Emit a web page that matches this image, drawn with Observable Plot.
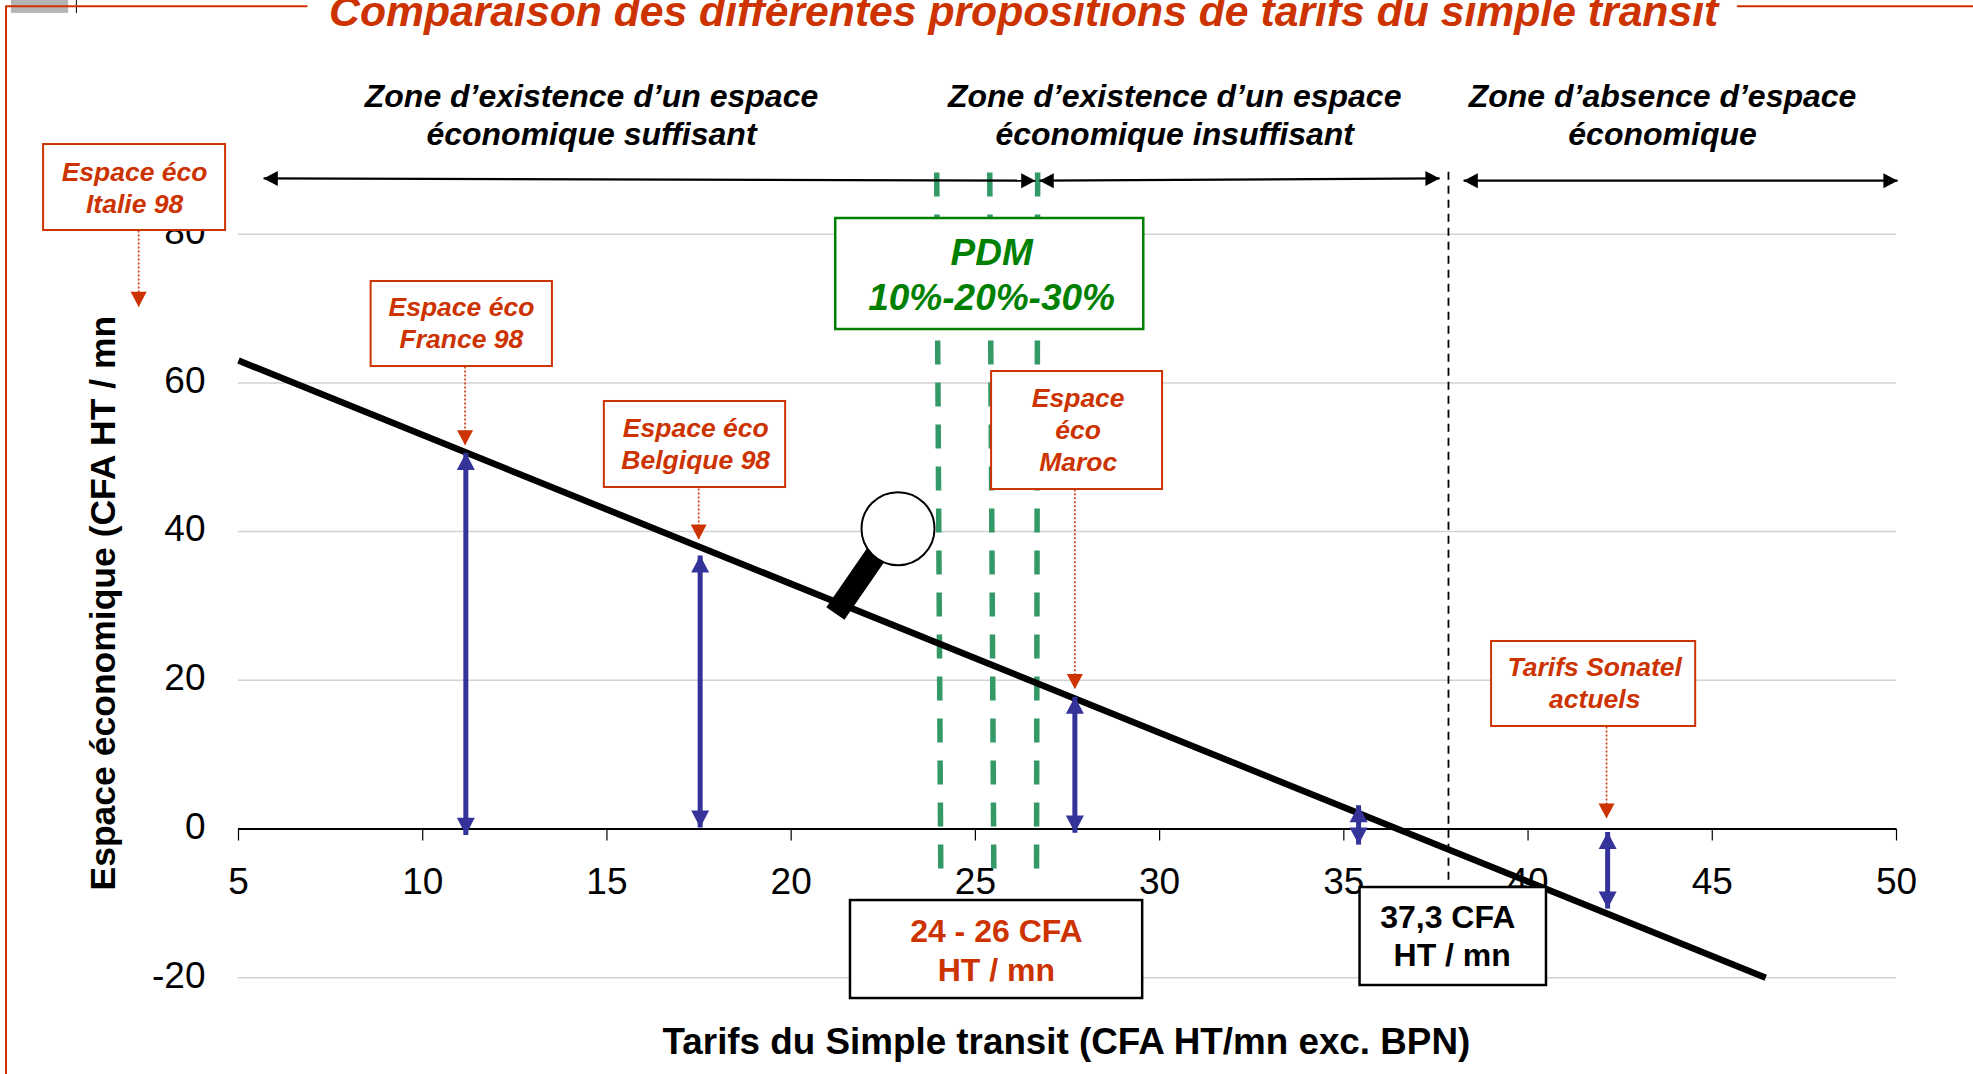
<!DOCTYPE html>
<html lang="fr">
<head>
<meta charset="utf-8">
<script src="https://cdn.jsdelivr.net/npm/d3@7"></script>
<script src="https://cdn.jsdelivr.net/npm/@observablehq/plot@0.6"></script>
<style>html,body{margin:0;padding:0;background:#fff;overflow:hidden}</style>
</head>
<body>
<div id="chart"></div>
<script>
// Axis values
const xTicks = [5,10,15,20,25,30,35,40,45,50];
const yTicks = [-20,0,20,40,60,80];
const gridY = [-20,20,40,60,80];
// Regression line (tariff, economic space)
const lineX = [5,46.45];
const lineY = [63,-20];
// Blue double arrows
const blueX = [11.17,17.53,27.7,35.4,42.16];
const blueTop = [50.6,36.8,17.8,3.2,-0.4];
const blueBottom = [-0.8,0.2,-0.5,-2.1,-10.7];
// Red dotted pointers
const redX = [2.29,11.15,17.49,27.7,42.13];
const redFrom = [80.5,62.2,45.8,45.7,13.8];
const redTip = [70.2,51.6,38.9,18.8,1.4];
// PDM green dashed lines
const pdmTopX = [23.95,25.39,26.69];
const pdmBottomX = [24.06,25.5,26.66];
const pdmTopY = 88.3, pdmBottomY = -5.3;
// Break-even dashed line
const breakX = 37.84, breakTopY = 88.4, breakBottomY = -6.9;
// Zone double arrows
const zoneX1 = [5.68,26.74,38.25];
const zoneX2 = [26.63,37.6,50.03];
const zoneY1 = [87.5,87.2,87.2];
const zoneY2 = [87.2,87.5,87.2];
const zoneText = ["Zone d’existence d’un espace\néconomique suffisant","Zone d’existence d’un espace\néconomique insuffisant","Zone d’absence d’espace\néconomique"];
const zoneTextX = [14.58,30.41,43.65];
const zoneTextY = 96.17;
// Annotation boxes
const boxLabels = ["Espace éco\nItalie 98","Espace éco\nFrance 98","Espace éco\nBelgique 98","Espace\néco\nMaroc","Tarifs Sonatel\nactuels"];
const boxX1 = [-0.29,8.6,14.93,25.44,39.01];
const boxX2 = [4.65,13.52,19.85,30.08,44.55];
const boxY1 = [92.06,73.64,57.5,61.53,25.22];
const boxY2 = [80.5,62.2,45.93,45.66,13.79];
const boxTextX = [2.18,11.05,17.41,27.79,41.81];
const boxTextY = [86.41,68.18,51.91,53.79,19.78];
// Magnifying glass
const lensX = 22.9, lensY = 40.4;
const handleX = [22.3,21.2], handleY = [36.9,29.0];
// Slide frame
const frameLeftX = -1.31, frameTopY = 110.66, frameBottomY = -33.02;
const frameTopLeft = [-1.31,6.85], frameTopRight = [45.69,52.1];

const RED = "#CC3300", BLUE = "#333399", DASHGREEN = "#339966", GREEN = "#008000", GRID = "#d2d2d2";
const FONT = "'Liberation Sans', Arial, sans-serif";

const idx = a => a.map((_, i) => i);
const head = {draw(c, size){const s = Math.sqrt(size/Math.PI); c.moveTo(0,0); c.lineTo(s,1.9*s); c.lineTo(-s,1.9*s); c.closePath();}};

const chart = Plot.plot({
  width: 1973, height: 1074,
  marginLeft: 238, marginRight: 77, marginTop: 233.7, marginBottom: 96.8,
  x: {domain: [5,50]},
  y: {domain: [-20,80]},
  style: {background: "#fff", fontFamily: FONT, overflow: "hidden"},
  marks: [
    // frame
    Plot.rect([0],{x1:-1.16,x2:0.39,y1:109.7,y2:111.43,fill:"#b4b4b4"}),
    Plot.line([[0.6,111.43],[0.6,109.8]],{stroke:"#000",strokeWidth:1}),
    Plot.line([[frameLeftX,frameBottomY],[frameLeftX,frameTopY],[frameTopLeft[1],frameTopY]],{stroke:RED,strokeWidth:2}),
    Plot.line(frameTopRight.map(x=>[x,frameTopY]),{stroke:RED,strokeWidth:2}),
    // grid and axes
    Plot.ruleY(gridY,{stroke:GRID,strokeWidth:1.5}),
    Plot.axisY(yTicks,{anchor:"left",tickSize:0,tickPadding:33,fontSize:37,label:null,dy:-2,tickFormat:d=>String(d)}),
    Plot.axisX(xTicks,{anchor:"bottom",tickSize:12,tickPadding:27,fontSize:37,label:null,dy:-148.7,stroke:"#000",strokeWidth:1.2}),
    Plot.ruleY([0],{stroke:"#000",strokeWidth:2}),
    Plot.text(["Tarifs du Simple transit (CFA HT/mn exc. BPN)"],{x:27.47,y:-28.71,fontSize:36.8,fontWeight:"bold",fill:"#000"}),
    Plot.text(["Espace économique (CFA HT / mn)"],{x:1.34,y:-8.27,rotate:-90,textAnchor:"start",fontSize:35.5,fontWeight:"bold",fill:"#000"}),
    Plot.rect([0],{x1:0.71,x2:1.96,y1:68.8,y2:73,fill:"#fff"}),
    // PDM lines
    Plot.link(idx(pdmTopX),{x1:i=>pdmTopX[i],x2:i=>pdmBottomX[i],y1:pdmTopY,y2:pdmBottomY,stroke:DASHGREEN,strokeWidth:5.5,strokeDasharray:"24,18"}),
    // regression line
    Plot.line(idx(lineX),{x:i=>lineX[i],y:i=>lineY[i],stroke:"#000",strokeWidth:6.5,strokeLinecap:"butt"}),
    // break-even
    Plot.ruleX([breakX],{y1:breakBottomY,y2:breakTopY,stroke:"#000",strokeWidth:1.8,strokeDasharray:"8,6"}),
    // zones
    Plot.link(idx(zoneX1),{x1:i=>zoneX1[i],x2:i=>zoneX2[i],y1:i=>zoneY1[i],y2:i=>zoneY2[i],stroke:"#000",strokeWidth:2.2}),
    Plot.dot(idx(zoneX1),{x:i=>zoneX1[i],y:i=>zoneY1[i],r:7.5,symbol:head,rotate:-90,fill:"#000",stroke:"none"}),
    Plot.dot(idx(zoneX2),{x:i=>zoneX2[i],y:i=>zoneY2[i],r:7.5,symbol:head,rotate:90,fill:"#000",stroke:"none"}),
    Plot.text(zoneText,{x:(d,i)=>zoneTextX[i],y:zoneTextY,fontSize:32,fontWeight:"bold",fontStyle:"italic",lineHeight:1.2,fill:"#000"}),
    // blue arrows
    Plot.link(idx(blueX),{x1:i=>blueX[i],x2:i=>blueX[i],y1:i=>blueBottom[i],y2:i=>blueTop[i],stroke:BLUE,strokeWidth:5}),
    Plot.dot(idx(blueX),{x:i=>blueX[i],y:i=>blueTop[i],r:9,symbol:head,rotate:0,fill:BLUE,stroke:"none"}),
    Plot.dot(idx(blueX),{x:i=>blueX[i],y:i=>blueBottom[i],r:9,symbol:head,rotate:180,fill:BLUE,stroke:"none"}),
    // red pointers
    Plot.link(idx(redX),{x1:i=>redX[i],x2:i=>redX[i],y1:i=>redFrom[i],y2:i=>redTip[i],stroke:RED,strokeWidth:1.6,strokeDasharray:"2,2"}),
    Plot.dot(idx(redX),{x:i=>redX[i],y:i=>redTip[i],r:8,symbol:head,rotate:180,fill:RED,stroke:"none"}),
    // magnifier
    Plot.line(idx(handleX),{x:i=>handleX[i],y:i=>handleY[i],stroke:"#000",strokeWidth:22,strokeLinecap:"butt"}),
    Plot.dot([0],{x:lensX,y:lensY,r:36.5,fill:"#fff",stroke:"#000",strokeWidth:2}),
    // PDM box
    Plot.rect([0],{x1:21.21,x2:29.57,y1:67.18,y2:82.11,fill:"#fff",stroke:GREEN,strokeWidth:2.5}),
    Plot.text(["PDM\n10%-20%-30%"],{x:25.44,y:74.78,fontSize:37,lineHeight:1.22,fontWeight:"bold",fontStyle:"italic",fill:GREEN}),
    // red boxes
    Plot.rect(idx(boxX1),{x1:i=>boxX1[i],x2:i=>boxX2[i],y1:i=>boxY1[i],y2:i=>boxY2[i],fill:"#fff",stroke:RED,strokeWidth:2}),
    Plot.text(boxLabels,{x:(d,i)=>boxTextX[i],y:(d,i)=>boxTextY[i],fontSize:26.5,lineHeight:1.2,fontWeight:"bold",fontStyle:"italic",fill:RED}),
    // black boxes
    Plot.rect([0],{x1:21.61,x2:29.54,y1:-22.8,y2:-9.62,fill:"#fff",stroke:"#000",strokeWidth:2.5}),
    Plot.text(["24 - 26 CFA\nHT / mn"],{x:25.57,y:-16.1,fontSize:32,lineHeight:1.22,fontWeight:"bold",fill:RED}),
    Plot.rect([0],{x1:35.44,x2:40.5,y1:-21.05,y2:-7.87,fill:"#fff",stroke:"#000",strokeWidth:2.5}),
    Plot.text(["37,3 CFA\n HT / mn"],{x:37.82,y:-14.26,fontSize:32,lineHeight:1.19,fontWeight:"bold",fill:"#000"}),
    // title
    Plot.text(["Comparaison des différentes propositions de tarifs du simple transit"],{x:26.31,y:109.9,fontSize:42.7,fontWeight:"bold",fontStyle:"italic",fill:RED})
  ]
});
document.getElementById("chart").append(chart);
</script>
</body>
</html>
